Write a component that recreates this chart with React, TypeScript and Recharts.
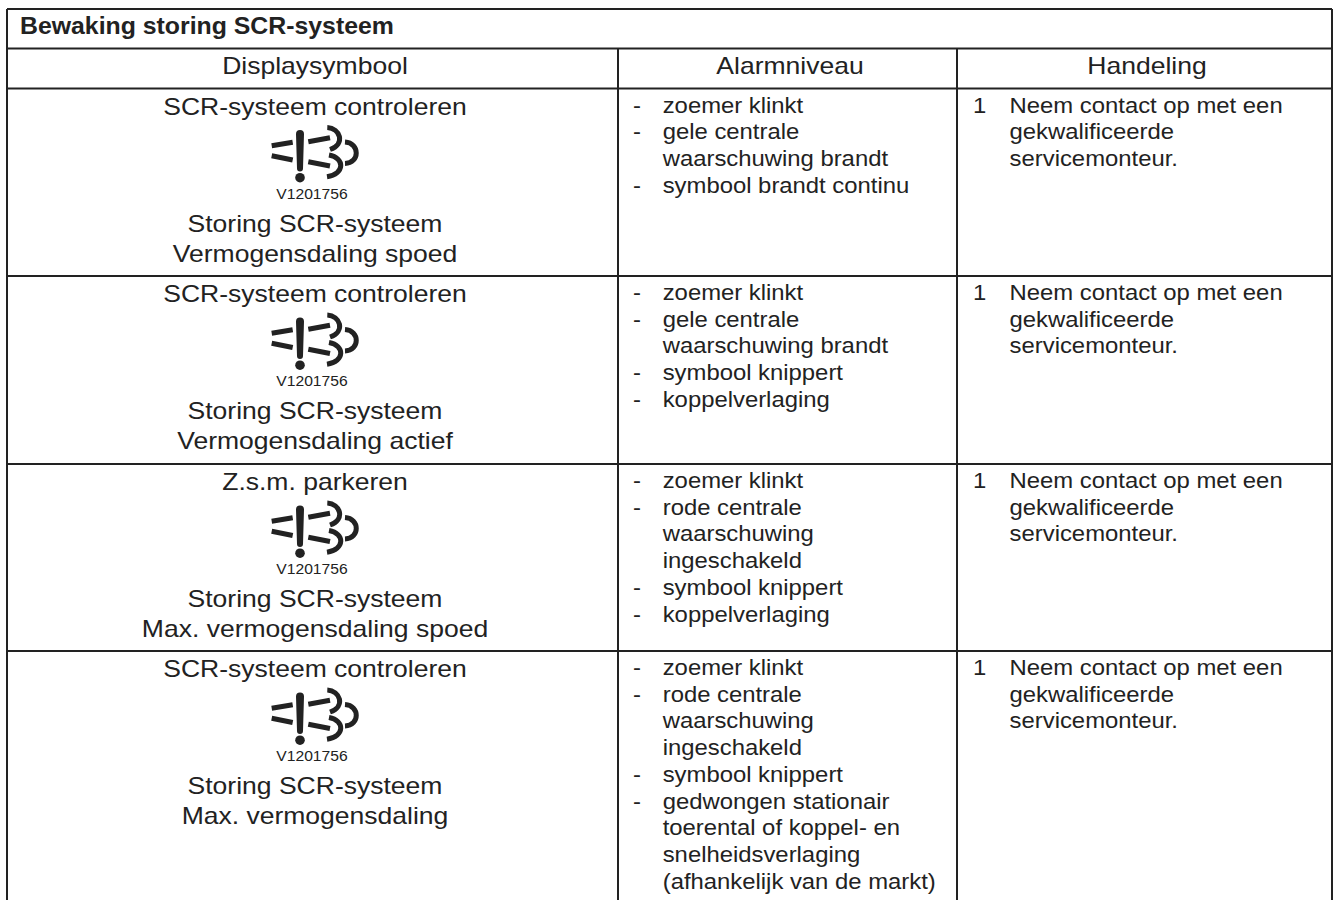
import { ComposedChart, ReferenceLine, Scatter, XAxis, YAxis } from 'recharts';

const WIDTH = 1333;
const HEIGHT = 900;
const INK = '#222222';
const FONT = '"Liberation Sans", Arial, sans-serif';

// table geometry, in page pixels
const columnEdges = [7, 618, 957, 1332];
const columnCentres = [315, 790, 1147];
const headerEdges = [9, 48.5, 88.5];
const rowTops = [276, 464, 651];
const firstRowTop = 88.5;

const title = 'Bewaking storing SCR-systeem';
const headers = ['Displaysymbool', 'Alarmniveau', 'Handeling'];
const symbolCode = 'V1201756';

const displayTop = ['SCR-systeem controleren', 'SCR-systeem controleren', 'Z.s.m. parkeren', 'SCR-systeem controleren'];
const displayMiddle = ['Storing SCR-systeem', 'Storing SCR-systeem', 'Storing SCR-systeem', 'Storing SCR-systeem'];
const displayBottom = ['Vermogensdaling spoed', 'Vermogensdaling actief', 'Max. vermogensdaling spoed', 'Max. vermogensdaling'];

const alarmItems = [
  [['zoemer klinkt'], ['gele centrale', 'waarschuwing brandt'], ['symbool brandt continu']],
  [['zoemer klinkt'], ['gele centrale', 'waarschuwing brandt'], ['symbool knippert'], ['koppelverlaging']],
  [['zoemer klinkt'], ['rode centrale', 'waarschuwing', 'ingeschakeld'], ['symbool knippert'], ['koppelverlaging']],
  [
    ['zoemer klinkt'],
    ['rode centrale', 'waarschuwing', 'ingeschakeld'],
    ['symbool knippert'],
    ['gedwongen stationair', 'toerental of koppel- en', 'snelheidsverlaging', '(afhankelijk van de markt)'],
  ],
];
const actionStep = '1';
const actionLines = ['Neem contact op met een', 'gekwalificeerde', 'servicemonteur.'];

const allTops = [firstRowTop, ...rowTops];
const LINE = 26.7;

type Label = { x: number; y: number; text: string };

const TextMark = (size: number, stretch: number, anchor: string, weight = 400) => (props: any) => (
  <g transform={`translate(${props.cx},${props.cy}) scale(${stretch},1)`}>
    <text x={0} y={0} fontFamily={FONT} fontSize={size} fontWeight={weight} textAnchor={anchor} fill={INK}>
      {props.payload.text}
    </text>
  </g>
);

// drawn around the first row's symbol, then moved by the point it is given
const SymbolMark = (props: any) => (
  <g transform={`translate(${props.cx - 300},${props.cy - 153.5})`} fill="none" stroke={INK} strokeWidth={5}>
    <path d="M271.7 145.7L292.7 142.3M271.7 155.7L292.7 160M308.3 141.7L330 137.7M308.3 161.7L330 166" />
    <path d="M327.3 127.5C340 128 346 144 330 149.5M345 142C360 143 360 163 345 163.5M329 155C345 158 345 174 327 176.7" />
    <path d="M296 134A4 4 0 0 1 304 134L303 168.5A3 3 0 0 1 297 168.5Z" fill={INK} stroke="none" />
    <circle cx={300} cy={177.7} r={4.8} fill={INK} stroke="none" />
  </g>
);

const headerLabels: Label[] = headers.map((text, i) => ({ x: columnCentres[i], y: 74, text }));
const titleLabel: Label[] = [{ x: 20, y: 34, text: title }];
const displayLabels: Label[] = allTops.flatMap((top, i) => [
  { x: columnCentres[0], y: top + 26, text: displayTop[i] },
  { x: columnCentres[0], y: top + 143, text: displayMiddle[i] },
  { x: columnCentres[0], y: top + 173, text: displayBottom[i] },
]);
const codeLabels: Label[] = allTops.map((top) => ({ x: 312, y: top + 110, text: symbolCode }));
const symbolPoints = allTops.map((top) => ({ x: 300, y: top + 65 }));

const alarmText: Label[] = [];
const alarmDashes: Label[] = [];
alarmItems.forEach((items, r) => {
  let n = 0;
  items.forEach((lines) => {
    alarmDashes.push({ x: 633, y: allTops[r] + 24 + n * LINE, text: '-' });
    lines.forEach((text) => {
      alarmText.push({ x: 662.7, y: allTops[r] + 24 + n * LINE, text });
      n += 1;
    });
  });
});

const stepLabels: Label[] = allTops.map((top) => ({ x: 973, y: top + 24, text: actionStep }));
const actionLabels: Label[] = allTops.flatMap((top) =>
  actionLines.map((text, n) => ({ x: 1009.6, y: top + 24 + n * LINE, text })),
);

const rule = { stroke: INK, strokeWidth: 2, ifOverflow: 'visible' as const };

export default function App() {
  return (
    <div style={{ position: 'absolute', left: 0, top: 0, background: '#fff' }}>
      <ComposedChart width={WIDTH} height={HEIGHT} margin={{ top: 0, right: 0, bottom: 0, left: 0 }}>
        <XAxis type="number" dataKey="x" domain={[0, WIDTH]} hide />
        <YAxis type="number" dataKey="y" domain={[0, HEIGHT]} reversed hide />

        {[...headerEdges, ...rowTops].map((y) => (
          <ReferenceLine key={`h${y}`} {...rule} segment={[{ x: columnEdges[0], y }, { x: columnEdges[3], y }]} />
        ))}
        <ReferenceLine {...rule} segment={[{ x: columnEdges[0], y: headerEdges[0] }, { x: columnEdges[0], y: HEIGHT }]} />
        <ReferenceLine {...rule} segment={[{ x: columnEdges[3], y: headerEdges[0] }, { x: columnEdges[3], y: HEIGHT }]} />
        <ReferenceLine {...rule} segment={[{ x: columnEdges[1], y: headerEdges[1] }, { x: columnEdges[1], y: HEIGHT }]} />
        <ReferenceLine {...rule} segment={[{ x: columnEdges[2], y: headerEdges[1] }, { x: columnEdges[2], y: HEIGHT }]} />

        <Scatter data={titleLabel} shape={TextMark(23, 1.08, 'start', 700)} isAnimationActive={false} />
        <Scatter data={headerLabels} shape={TextMark(24, 1.105, 'middle')} isAnimationActive={false} />
        <Scatter data={displayLabels} shape={TextMark(24, 1.105, 'middle')} isAnimationActive={false} />
        <Scatter data={codeLabels} shape={TextMark(14, 1.12, 'middle')} isAnimationActive={false} />
        <Scatter data={symbolPoints} shape={SymbolMark} isAnimationActive={false} />
        <Scatter data={alarmDashes} shape={TextMark(22.3, 1.07, 'start')} isAnimationActive={false} />
        <Scatter data={alarmText} shape={TextMark(22.3, 1.07, 'start')} isAnimationActive={false} />
        <Scatter data={stepLabels} shape={TextMark(22.3, 1.07, 'start')} isAnimationActive={false} />
        <Scatter data={actionLabels} shape={TextMark(22.3, 1.07, 'start')} isAnimationActive={false} />
      </ComposedChart>
    </div>
  );
}
